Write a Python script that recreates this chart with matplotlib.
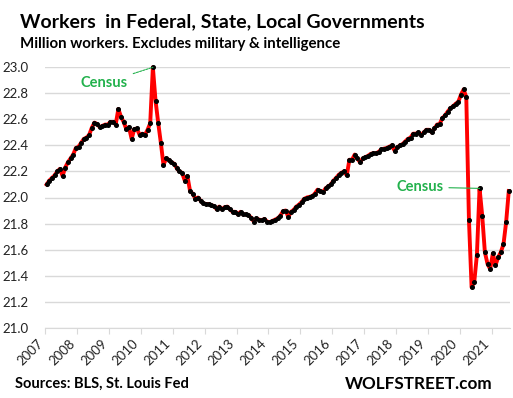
import numpy as np
import matplotlib
matplotlib.use("Agg")
import matplotlib.pyplot as plt

# Monthly government employment, million workers (Jan 2007 - Jul 2021)
y2007 = [22.10, 22.13, 22.15, 22.17, 22.20, 22.22, 22.165, 22.23, 22.27, 22.30, 22.33, 22.38]
y2008 = [22.39, 22.42, 22.45, 22.46, 22.48, 22.535, 22.575, 22.565, 22.54, 22.55, 22.56, 22.56]
y2009 = [22.58, 22.58, 22.56, 22.68, 22.62, 22.58, 22.525, 22.54, 22.45, 22.525, 22.53, 22.48]
y2010 = [22.49, 22.48, 22.52, 22.57, 23.00, 22.745, 22.575, 22.42, 22.25, 22.30, 22.29, 22.27]
y2011 = [22.26, 22.225, 22.20, 22.19, 22.13, 22.165, 22.05, 22.03, 21.99, 22.00, 21.975, 21.955]
y2012 = [21.95, 21.95, 21.94, 21.935, 21.91, 21.93, 21.91, 21.925, 21.93, 21.91, 21.89, 21.89]
y2013 = [21.87, 21.89, 21.87, 21.87, 21.865, 21.845, 21.815, 21.84, 21.83, 21.825, 21.835, 21.815]
y2014 = [21.81, 21.82, 21.83, 21.84, 21.86, 21.895, 21.90, 21.85, 21.89, 21.905, 21.93, 21.945]
y2015 = [21.965, 21.99, 22.00, 22.005, 22.01, 22.03, 22.06, 22.05, 22.04, 22.07, 22.085, 22.10]
y2016 = [22.13, 22.15, 22.175, 22.19, 22.20, 22.17, 22.29, 22.29, 22.33, 22.30, 22.27, 22.30]
y2017 = [22.31, 22.32, 22.335, 22.34, 22.34, 22.35, 22.37, 22.375, 22.38, 22.39, 22.40, 22.36]
y2018 = [22.385, 22.40, 22.41, 22.43, 22.45, 22.46, 22.49, 22.49, 22.50, 22.48, 22.50, 22.52]
y2019 = [22.52, 22.50, 22.53, 22.56, 22.565, 22.61, 22.63, 22.66, 22.685, 22.70, 22.72, 22.735]
y2020 = [22.79, 22.83, 22.77, 21.83, 21.31, 21.35, 21.56, 22.07, 21.86, 21.58, 21.49, 21.45]
y2021 = [21.57, 21.48, 21.54, 21.58, 21.64, 21.81, 22.05]

years = list(range(2007, 2022))
yticks = [21.0, 21.2, 21.4, 21.6, 21.8, 22.0, 22.2, 22.4, 22.6, 22.8, 23.0]

values = (y2007 + y2008 + y2009 + y2010 + y2011 + y2012 + y2013 + y2014
          + y2015 + y2016 + y2017 + y2018 + y2019 + y2020 + y2021)
# mid-month positions in fractional years
x = 2007 + (np.arange(len(values)) + 0.5) / 12.0

plt.rcParams['font.family'] = ['Lato', 'DejaVu Sans']

fig = plt.figure(figsize=(5.13, 3.98), dpi=100)
ax = fig.add_axes([45.3 / 513, 1 - 327.7 / 398, (510 - 45.3) / 513, (327.7 - 67.3) / 398])

ax.plot(x, values, color='#FF0000', lw=2.8, marker='o', markersize=2.6,
        markerfacecolor='black', markeredgecolor='black', clip_on=False, zorder=3)

ax.set_xlim(2007, 2021.58)
ax.set_ylim(21.0, 23.0)
ax.set_yticks(yticks)
ax.set_yticklabels([f"{v:.1f}" for v in yticks], fontsize=9.5, color='#222222')
ax.set_xticks(years)
ax.set_xticklabels([str(y) for y in years], rotation=45, ha='right',
                   fontsize=9.5, color='#222222')
ax.grid(axis='y', color='#D9D9D9', lw=1)
ax.set_axisbelow(True)
for s in ['left', 'right', 'top']:
    ax.spines[s].set_visible(False)
ax.spines['bottom'].set_color('#D9D9D9')
ax.tick_params(axis='y', length=0, pad=12)
ax.tick_params(axis='x', length=4, color='#D9D9D9', pad=3)

green = '#22B14C'
ax.annotate('Census', xy=(2010 + 4.5 / 12, 23.0), xytext=(2008.85, 22.88),
            color=green, fontsize=10.5, fontweight='bold', ha='center', va='center',
            arrowprops=dict(arrowstyle='-', color=green, lw=0.8, ls=(0, (2, 1)),
                            shrinkA=2, shrinkB=0))
ax.annotate('Census', xy=(2020 + 7.5 / 12, 22.07), xytext=(2018.75, 22.08),
            color=green, fontsize=10.5, fontweight='bold', ha='center', va='center',
            arrowprops=dict(arrowstyle='-', color=green, lw=0.8,
                            shrinkA=2, shrinkB=0))

fig.text(20 / 513, 1 - 27 / 398, 'Workers  in Federal, State, Local Governments',
         fontsize=14, fontweight='bold', va='baseline', color='black')
fig.text(20 / 513, 1 - 48 / 398, 'Million workers. Excludes military & intelligence',
         fontsize=10.8, fontweight='bold', va='baseline', color='black')
fig.text(15 / 513, 1 - 388 / 398, 'Sources: BLS, St. Louis Fed',
         fontsize=10.5, fontweight='bold', va='baseline', color='black')
fig.text(492 / 513, 1 - 389 / 398, 'WOLFSTREET.com',
         fontsize=12.3, fontweight='bold', va='baseline', ha='right', color='black')

fig.savefig('out.png', dpi=100)
